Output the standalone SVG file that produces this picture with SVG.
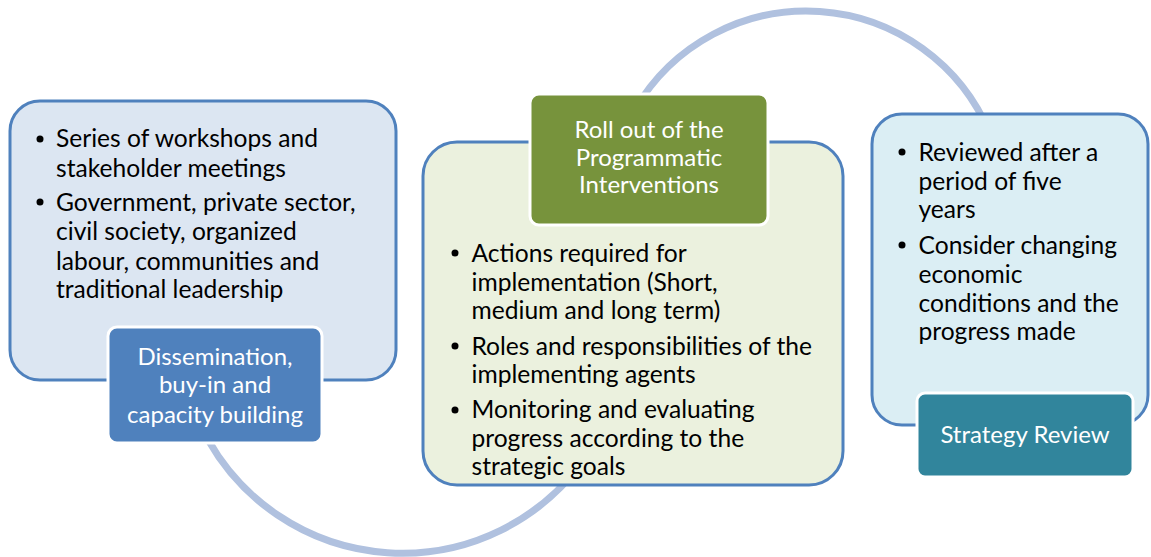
<svg xmlns="http://www.w3.org/2000/svg" width="1151" height="557" viewBox="0 0 1151 557">
<style>
.arc{fill:none;stroke:#B0C1DF;stroke-width:7}
.box{stroke:#4F81BD;stroke-width:3}
.lbl{stroke:#FFFFFF;stroke-width:3}
.t{font-family:Lato,"Liberation Sans",sans-serif;font-size:24.6px;fill:#000}
.w{font-family:Lato,"Liberation Sans",sans-serif;font-size:24px;fill:#FFFFFF;text-anchor:middle}
.dot{fill:#000}
</style>
<rect width="1151" height="557" fill="#FFFFFF"/>
<g id="connectors">
<path class="arc" d="M 634.7 110 A 198.5 198.5 0 0 1 990 133.8"/>
<path class="arc" d="M 208.2 440 A 223.1 223.1 0 0 0 580 465"/>
</g>
<g id="node-dissemination">
<rect class="box" x="10" y="101" width="386" height="279" rx="30" fill="#DCE6F2"/>
<circle class="dot" cx="40" cy="139" r="3.5"/>
<text class="t" x="56" y="147">Series of workshops and</text>
<text class="t" x="56" y="177">stakeholder meetings</text>
<circle class="dot" cx="40" cy="202" r="3.5"/>
<text class="t" x="56" y="211">Government, private sector,</text>
<text class="t" x="56" y="240">civil society, organized</text>
<text class="t" x="56" y="270">labour, communities and</text>
<text class="t" x="56" y="298">traditional leadership</text>
<rect class="lbl" x="108" y="327" width="214" height="116" rx="9" fill="#4F81BD"/>
<text class="w" x="215" y="365">Dissemination,</text>
<text class="w" x="215" y="393">buy-in and</text>
<text class="w" x="215" y="423">capacity building</text>
</g>
<g id="node-rollout">
<rect class="box" x="423" y="142" width="420" height="343" rx="34" fill="#EBF1DE"/>
<rect class="lbl" x="530" y="94" width="238" height="131" rx="9" fill="#77933C"/>
<text class="w" x="649" y="138">Roll out of the</text>
<text class="w" x="649" y="166">Programmatic</text>
<text class="w" x="649" y="193">Interventions</text>
<circle class="dot" cx="455" cy="253" r="3.5"/>
<text class="t" x="471.5" y="262">Actions required for</text>
<text class="t" x="471.5" y="291">implementation (Short,</text>
<text class="t" x="471.5" y="319">medium and long term)</text>
<circle class="dot" cx="455" cy="346" r="3.5"/>
<text class="t" x="471.5" y="355">Roles and responsibilities of the</text>
<text class="t" x="471.5" y="383">implementing agents</text>
<circle class="dot" cx="455" cy="410" r="3.5"/>
<text class="t" x="471.5" y="418">Monitoring and evaluating</text>
<text class="t" x="471.5" y="447">progress according to the</text>
<text class="t" x="471.5" y="475">strategic goals</text>
</g>
<g id="node-review">
<rect class="box" x="872" y="114" width="276" height="311" rx="30" fill="#DBEEF4"/>
<circle class="dot" cx="902" cy="152" r="3.5"/>
<text class="t" x="918.5" y="161">Reviewed after a</text>
<text class="t" x="918.5" y="190">period of five</text>
<text class="t" x="918.5" y="218">years</text>
<circle class="dot" cx="902" cy="245" r="3.5"/>
<text class="t" x="918.5" y="254">Consider changing</text>
<text class="t" x="918.5" y="283">economic</text>
<text class="t" x="918.5" y="312">conditions and the</text>
<text class="t" x="918.5" y="340">progress made</text>
<rect class="lbl" x="917" y="393" width="216" height="84" rx="8" fill="#31859C"/>
<text class="w" x="1025" y="443">Strategy Review</text>
</g>
</svg>
